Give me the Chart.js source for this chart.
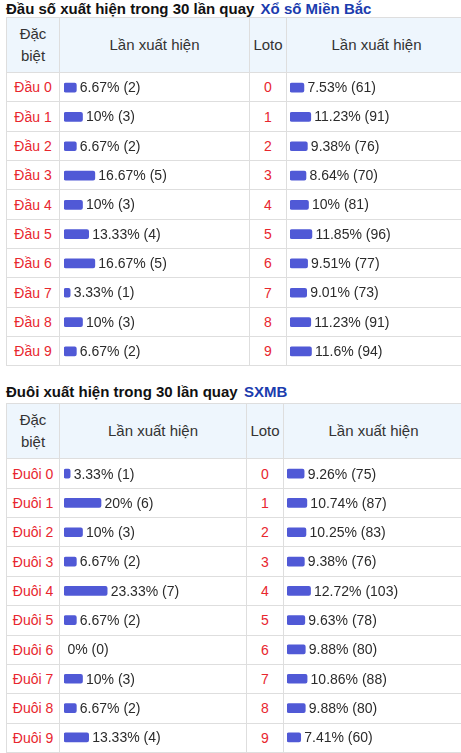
<!DOCTYPE html>
<html>
<head>
<meta charset="utf-8">
<script src="https://cdn.jsdelivr.net/npm/chart.js@4.4.1/dist/chart.umd.min.js"></script>
<style>
body { margin: 0; padding: 0 0 0 6px; width: 461px; height: 753px; overflow: hidden; position: relative;
       font-family: "Liberation Sans", Arial, sans-serif; color: #333; }
h3 { font-size: 15px; font-weight: bold; margin: 0; line-height: 17px; color: #111; white-space: nowrap; }
h3 a { color: #1b3cae; text-decoration: none; margin-left: 2px; }
h3.second { margin: 17px 0 3px; }
table { border-collapse: collapse; table-layout: fixed; font-size: 14px; }
th, td { border: 1px solid #dedede; padding: 0; text-align: center; font-weight: normal; }
thead th { background: #eef6fd; height: 54px; line-height: 22px; font-size: 15px; }
tbody tr { height: 29.35px; }
.red { color: #e8262e; }
.lbl { position: absolute; font-size: 14px; color: #2b2b2b; white-space: nowrap; transform: translateY(-50%); line-height: 16px; }
canvas.bars { position: absolute; }
</style>
</head>
<body>

<h3>Đầu số xuất hiện trong 30 lần quay <a>Xổ số Miền Bắc</a></h3>
<table id="t1">
  <colgroup><col style="width:53px"><col style="width:190px"><col style="width:37px"><col style="width:180px"></colgroup>
  <thead><tr><th>Đặc<br>biệt</th><th>Lần xuất hiện</th><th>Loto</th><th>Lần xuất hiện</th></tr></thead>
  <tbody></tbody>
</table>

<h3 class="second">Đuôi xuất hiện trong 30 lần quay <a>SXMB</a></h3>
<table id="t2">
  <colgroup><col style="width:53px"><col style="width:187px"><col style="width:37px"><col style="width:180px"></colgroup>
  <thead><tr><th>Đặc<br>biệt</th><th>Lần xuất hiện</th><th>Loto</th><th>Lần xuất hiện</th></tr></thead>
  <tbody></tbody>
</table>

<script>
const DIGITS = ['0', '1', '2', '3', '4', '5', '6', '7', '8', '9'];

const DAU_SPECIAL_PCT   = [6.67, 10, 6.67, 16.67, 10, 13.33, 16.67, 3.33, 10, 6.67];
const DAU_SPECIAL_COUNT = [2, 3, 2, 5, 3, 4, 5, 1, 3, 2];
const DAU_LOTO_PCT      = [7.53, 11.23, 9.38, 8.64, 10, 11.85, 9.51, 9.01, 11.23, 11.6];
const DAU_LOTO_COUNT    = [61, 91, 76, 70, 81, 96, 77, 73, 91, 94];

const DUOI_SPECIAL_PCT   = [3.33, 20, 10, 6.67, 23.33, 6.67, 0, 10, 6.67, 13.33];
const DUOI_SPECIAL_COUNT = [1, 6, 3, 2, 7, 2, 0, 3, 2, 4];
const DUOI_LOTO_PCT      = [9.26, 10.74, 10.25, 9.38, 12.72, 9.63, 9.88, 10.86, 9.88, 7.41];
const DUOI_LOTO_COUNT    = [75, 87, 83, 76, 103, 78, 80, 88, 80, 60];

const BAR_COLOR  = '#5059d6';
const PX_PER_PCT = 1.85;

function fillRows(tableId, prefix) {
    const tbody = document.querySelector(`#${tableId} tbody`);
    DIGITS.forEach((d) => {
        const tr = document.createElement('tr');
        tr.innerHTML = `<td class="red">${prefix} ${d}</td><td></td><td class="red">${d}</td><td></td>`;
        tbody.appendChild(tr);
    });
}

function drawColumn(tableId, colIndex, inset, pcts, counts) {
    const rows = document.querySelectorAll(`#${tableId} tbody tr`);
    const first = rows[0].children[colIndex].getBoundingClientRect();
    const last = rows[rows.length - 1].children[colIndex].getBoundingClientRect();

    const left = first.left + inset;
    const top = first.top;
    const width = Math.round(first.width - 8);
    const height = Math.round(last.bottom - first.top);

    const canvas = document.createElement('canvas');
    canvas.className = 'bars';
    canvas.style.left = left + 'px';
    canvas.style.top = top + 'px';
    canvas.width = width;
    canvas.height = height;
    canvas.style.width = width + 'px';
    canvas.style.height = height + 'px';
    document.body.appendChild(canvas);

    const chart = new Chart(canvas.getContext('2d'), {
        type: 'bar',
        data: {
            labels: DIGITS,
            datasets: [{
                data: pcts,
                // an empty share gets no visible mark
                backgroundColor: (ctx) => (ctx.raw > 0 ? BAR_COLOR : 'rgba(0,0,0,0)'),
                barThickness: 9,
                borderRadius: 2,
                borderSkipped: false
            }]
        },
        options: {
            indexAxis: 'y',
            responsive: false,
            animation: false,
            layout: { padding: 0 },
            plugins: { legend: { display: false }, tooltip: { enabled: false } },
            scales: {
                x: { display: false, min: 0, max: width / PX_PER_PCT },
                y: { display: false }
            }
        }
    });

    chart.getDatasetMeta(0).data.forEach((bar, i) => {
        const span = document.createElement('span');
        span.className = 'lbl';
        span.textContent = `${pcts[i]}% (${counts[i]})`;
        span.style.left = (left + bar.x + 4) + 'px';
        span.style.top = (top + bar.y) + 'px';
        document.body.appendChild(span);
    });
}

fillRows('t1', 'Đầu');
fillRows('t2', 'Đuôi');

drawColumn('t1', 1, 4, DAU_SPECIAL_PCT, DAU_SPECIAL_COUNT);
drawColumn('t1', 3, 3, DAU_LOTO_PCT, DAU_LOTO_COUNT);
drawColumn('t2', 1, 4, DUOI_SPECIAL_PCT, DUOI_SPECIAL_COUNT);
drawColumn('t2', 3, 3, DUOI_LOTO_PCT, DUOI_LOTO_COUNT);
</script>
</body>
</html>
